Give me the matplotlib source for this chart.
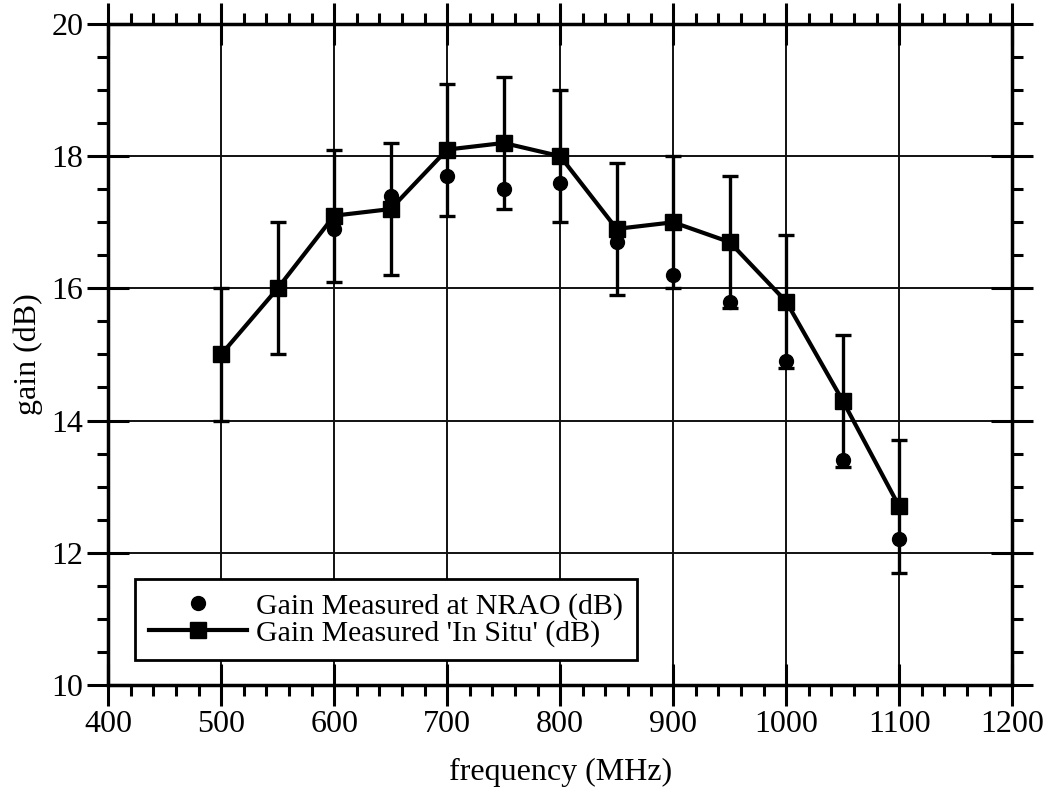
import numpy as np
import matplotlib
matplotlib.use("Agg")
import matplotlib.pyplot as plt
from matplotlib.ticker import MultipleLocator

# ── data ──────────────────────────────────────────────────────────────────────
freq_situ = [500, 550, 600, 650, 700, 750, 800, 850, 900, 950, 1000, 1050, 1100]
gain_situ = [15.0, 16.0, 17.1, 17.2, 18.1, 18.2, 18.0, 16.9, 17.0, 16.7, 15.8, 14.3, 12.7]
err_situ  = [1.0] * len(freq_situ)

freq_nrao = [600, 650, 700, 750, 800, 850, 900, 950, 1000, 1050, 1100]
gain_nrao = [16.9, 17.4, 17.7, 17.5, 17.6, 16.7, 16.2, 15.8, 14.9, 13.4, 12.2]

LABEL_NRAO = "Gain Measured at NRAO (dB)"
LABEL_SITU = "Gain Measured 'In Situ' (dB)"

plt.rcParams["font.family"] = ["Liberation Serif", "DejaVu Serif"]

fig = plt.figure(figsize=(10.5, 8.01), dpi=100)
ax = fig.add_axes([0.103, 0.145, 0.861, 0.825])

ax.grid(True, which="major", color="#111111", linewidth=1.4)
ax.set_axisbelow(True)

ax.errorbar(freq_situ, gain_situ, yerr=err_situ, fmt="none", ecolor="black",
            elinewidth=2.4, capsize=6, capthick=2.4, zorder=3)
ax.plot(freq_situ, gain_situ, color="black", linewidth=3, marker="s",
        markersize=11, label=LABEL_SITU, zorder=4)
ax.plot(freq_nrao, gain_nrao, linestyle="none", color="black", marker="o",
        markersize=10, label=LABEL_NRAO, zorder=5)

ax.set_xlim(400, 1200)
ax.set_ylim(10, 20)
ax.xaxis.set_major_locator(MultipleLocator(100))
ax.xaxis.set_minor_locator(MultipleLocator(20))
ax.yaxis.set_major_locator(MultipleLocator(2))
ax.yaxis.set_minor_locator(MultipleLocator(0.5))

ax.tick_params(which="major", direction="inout", length=30, width=2.2,
               top=True, right=True, labelsize=23, pad=3)
ax.tick_params(which="minor", direction="out", length=8, width=2.2,
               top=True, right=True)
for s in ax.spines.values():
    s.set_linewidth(2.5)

ax.set_xlabel("frequency (MHz)", fontsize=23, labelpad=14)
ax.set_ylabel("gain (dB)", fontsize=23, labelpad=6)

h, l = ax.get_legend_handles_labels()
leg = ax.legend(h[::-1], l[::-1], loc="lower left", bbox_to_anchor=(0.03, 0.037),
                fontsize=21.5, frameon=True, fancybox=False, handlelength=3.3,
                borderpad=0.45, labelspacing=0.0, handletextpad=0.3, borderaxespad=0)
leg.get_frame().set_edgecolor("black")
leg.get_frame().set_linewidth(2)
leg.get_frame().set_alpha(1)

fig.savefig("out.png", dpi=100)
